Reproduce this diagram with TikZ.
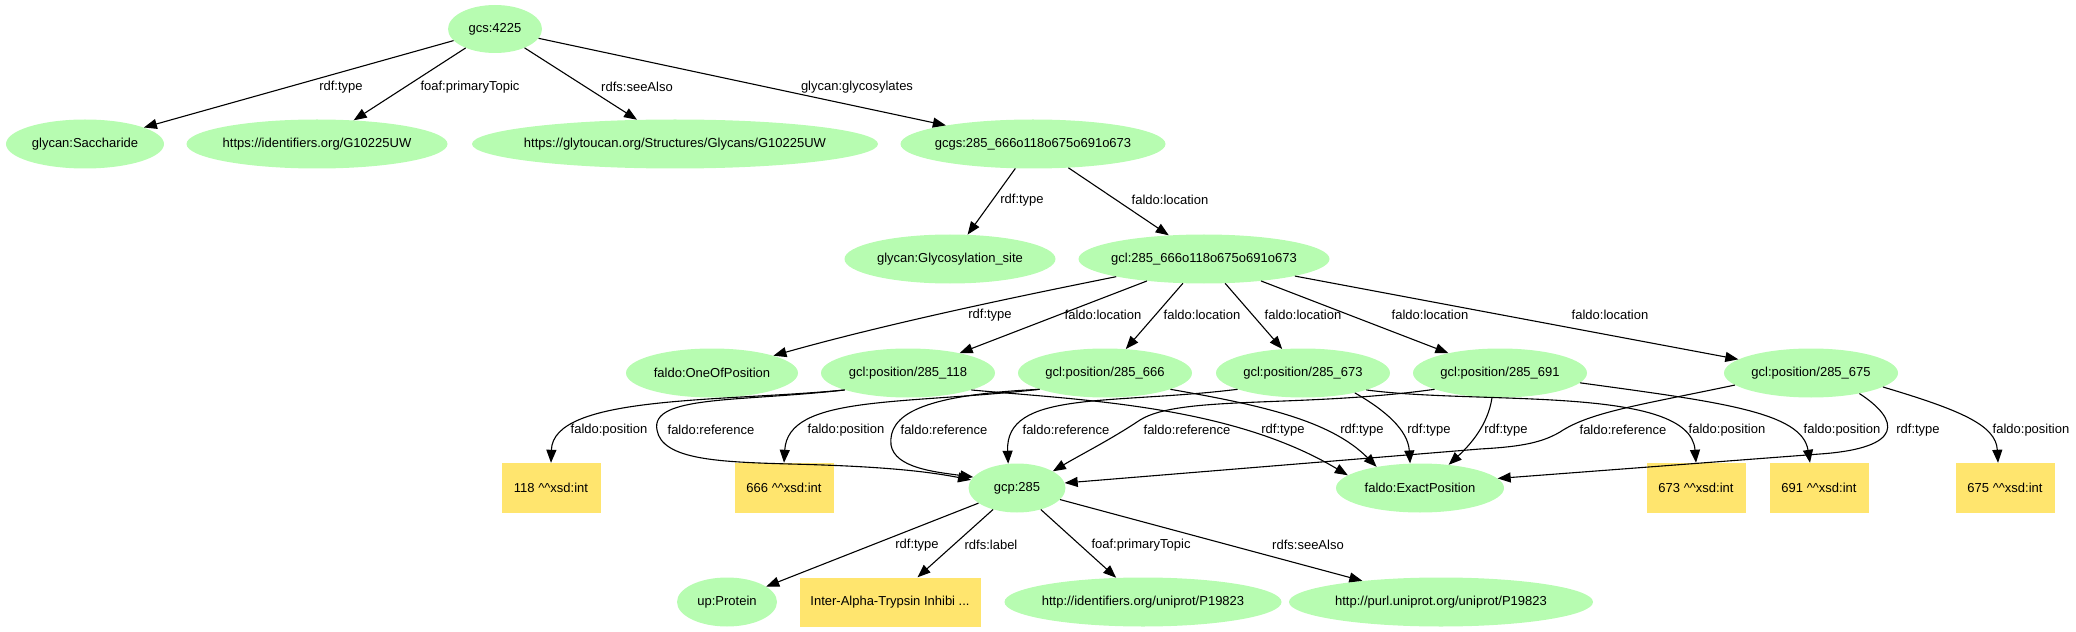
\documentclass[tikz,border=0pt]{standalone}
\usepackage{fontspec}
\setmainfont{Liberation Sans}
\usetikzlibrary{shapes.geometric,arrows.meta}
\definecolor{nodegreen}{RGB}{183,252,177}
\definecolor{lityellow}{RGB}{255,229,110}
\newcommand{\nt}[1]{\makebox[0pt]{#1}}
\begin{document}
\begin{tikzpicture}[x=1bp,y=-1bp,
  every node/.style={font=\fontsize{13bp}{15bp}\selectfont, inner sep=0pt},
  res/.style={ellipse, fill=nodegreen, minimum height=49bp},
  lit/.style={rectangle, fill=lityellow, minimum height=50bp},
  edge/.style={-{Triangle[length=13bp,width=10bp]}, line width=1.1bp},
  lbl/.style={}
]
\useasboundingbox (0,0) rectangle (2076,632);
% row 1
\node[res, minimum width=94bp, minimum height=48bp] (gcs) at (495,29) {\nt{gcs:4225}};
% row 2
\node[res, minimum width=158bp] (sacch) at (85,144) {\nt{glycan:Saccharide}};
\node[res, minimum width=261bp] (ident) at (317,144) {\nt{https://identifiers.org/G10225UW}};
\node[res, minimum width=406bp] (glyt) at (675,144) {\nt{https://glytoucan.org/Structures/Glycans/G10225UW}};
\node[res, minimum width=265bp] (gcgs) at (1033,144) {\nt{gcgs:285\_666o118o675o691o673}};
% row 3
\node[res, minimum width=211bp] (gsite) at (950,259) {\nt{glycan:Glycosylation\_site}};
\node[res, minimum width=251bp] (gcl) at (1204,259) {\nt{gcl:285\_666o118o675o691o673}};
% row 4
\node[res, minimum width=172bp] (oneof) at (712,373) {\nt{faldo:OneOfPosition}};
\node[res, minimum width=174bp] (p118) at (908,373) {\nt{gcl:position/285\_118}};
\node[res, minimum width=174bp] (p666) at (1105,373) {\nt{gcl:position/285\_666}};
\node[res, minimum width=174bp] (p673) at (1303,373) {\nt{gcl:position/285\_673}};
\node[res, minimum width=174bp] (p691) at (1500,373) {\nt{gcl:position/285\_691}};
\node[res, minimum width=174bp] (p675) at (1811,373) {\nt{gcl:position/285\_675}};
% row 5
\node[lit, minimum width=99bp] (b118) at (551,488) {118 \^{}\^{}xsd:int};
\node[lit, minimum width=99bp] (b666) at (784,488) {666 \^{}\^{}xsd:int};
\node[res, minimum width=97bp] (gcp) at (1017,488) {\nt{gcp:285}};
\node[res, minimum width=168bp] (exact) at (1420,488) {\nt{faldo:ExactPosition}};
\node[lit, minimum width=99bp] (b673) at (1696,488) {673 \^{}\^{}xsd:int};
\node[lit, minimum width=99bp] (b691) at (1819,488) {691 \^{}\^{}xsd:int};
\node[lit, minimum width=99bp] (b675) at (2005,488) {675 \^{}\^{}xsd:int};
% row 6
\node[res, minimum width=100bp] (prot) at (727,602) {\nt{up:Protein}};
\node[lit, minimum width=181bp, minimum height=49bp] (inter) at (890,602) {Inter-Alpha-Trypsin Inhibi ...};
\node[res, minimum width=277bp] (uniid) at (1143,602) {\nt{http://identifiers.org/uniprot/P19823}};
\node[res, minimum width=304bp] (purl) at (1441,602) {\nt{http://purl.uniprot.org/uniprot/P19823}};

% labels
\node[lbl] (t1) at (341,87) {rdf:type};
\node[lbl] (t2) at (470,87) {foaf:primaryTopic};
\node[lbl] (t3) at (637,87) {rdfs:seeAlso};
\node[lbl] (t4) at (857,87) {glycan:glycosylates};
\node[lbl] (t5) at (1022,200) {rdf:type};
\node[lbl] (t6) at (1170,200) {faldo:location};
\node[lbl] (t7) at (990,315) {rdf:type};
\node[lbl] (t8) at (1103,315) {faldo:location};
\node[lbl] (t9) at (1202,315) {faldo:location};
\node[lbl] (t10) at (1303,315) {faldo:location};
\node[lbl] (t11) at (1430,315) {faldo:location};
\node[lbl] (t12) at (1610,315) {faldo:location};
\node[lbl] (t13) at (609,430) {faldo:position};
\node[lbl] (t14) at (711,430) {faldo:reference};
\node[lbl] (t15) at (1283,430) {rdf:type};
\node[lbl] (t16) at (846,430) {faldo:position};
\node[lbl] (t17) at (944,430) {faldo:reference};
\node[lbl] (t18) at (1362,430) {rdf:type};
\node[lbl] (t19) at (1066,430) {faldo:reference};
\node[lbl] (t20) at (1429,430) {rdf:type};
\node[lbl] (t21) at (1727,430) {faldo:position};
\node[lbl] (t22) at (1187,430) {faldo:reference};
\node[lbl] (t23) at (1506,430) {rdf:type};
\node[lbl] (t24) at (1842,430) {faldo:position};
\node[lbl] (t25) at (1623,430) {faldo:reference};
\node[lbl] (t26) at (1918,430) {rdf:type};
\node[lbl] (t27) at (2031,430) {faldo:position};
\node[lbl] (t28) at (917,545) {rdf:type};
\node[lbl] (t29) at (991,545) {rdfs:label};
\node[lbl] (t30) at (1141,545) {foaf:primaryTopic};
\node[lbl] (t31) at (1308,545) {rdfs:seeAlso};

% straight edges
\draw[edge] (gcs) -- (sacch);
\draw[edge] (gcs) -- (ident);
\draw[edge] (gcs) -- (glyt);
\draw[edge] (gcs) -- (gcgs);
\draw[edge] (gcgs) -- (gsite);
\draw[edge] (gcgs) -- (gcl);
\draw[edge] (gcl) .. controls (1050,290) and (900,320) .. (oneof);
\draw[edge] (gcl) -- (p118);
\draw[edge] (gcl) -- (p666);
\draw[edge] (gcl) -- (p673);
\draw[edge] (gcl) -- (p691);
\draw[edge] (gcl) -- (p675);
\draw[edge] (gcp) -- (prot);
\draw[edge] (gcp) -- (inter);
\draw[edge] (gcp) -- (uniid);
\draw[edge] (gcp) -- (purl);

% curved edges
\draw[edge] (p118.-165) .. controls (720,402) and (553,395) .. (b118.north);
\draw[edge] (p118.-165) .. controls (740,402) and (650,395) .. (657,430)
   .. controls (662,460) and (720,462) .. (790,464)
   .. controls (870,466) and (920,470) .. (gcp.170);
\draw[edge] (p118.-15) .. controls (1080,400) and (1230,405) .. (exact.170);
\draw[edge] (p666.-166) .. controls (900,405) and (788,395) .. (b666.north);
\draw[edge] (p666.-166) .. controls (920,395) and (888,415) .. (891,445)
   .. controls (895,468) and (935,472) .. (gcp.166);
\draw[edge] (p666.-14) .. controls (1260,405) and (1330,420) .. (exact.154);
\draw[edge] (p673.-166) .. controls (1110,405) and (1005,390) .. (gcp.110);
\draw[edge] (p673.-21) .. controls (1385,410) and (1408,430) .. (exact.112);
\draw[edge] (p673.-15) .. controls (1480,405) and (1690,385) .. (b673.north);
\draw[edge] (p691.-166) .. controls (1300,408) and (1180,395) .. (1140,420)
   .. controls (1110,440) and (1080,455) .. (gcp.25);
\draw[edge] (p691.-108) .. controls (1488,425) and (1470,445) .. (exact.39);
\draw[edge] (p691.-7) .. controls (1720,402) and (1802,412) .. ([xshift=-9bp]b691.north);
\draw[edge] (p675.-171) .. controls (1640,405) and (1590,412) .. (1560,432)
   .. controls (1540,444) and (1515,447) .. (1480,449) -- (gcp.6);
\draw[edge] (p675.-23) .. controls (1900,420) and (1905,448) .. (1820,454) -- (exact.7);
\draw[edge] (p675.-11) .. controls (1960,410) and (1996,425) .. ([xshift=-7bp]b675.north);
\end{tikzpicture}
\end{document}
